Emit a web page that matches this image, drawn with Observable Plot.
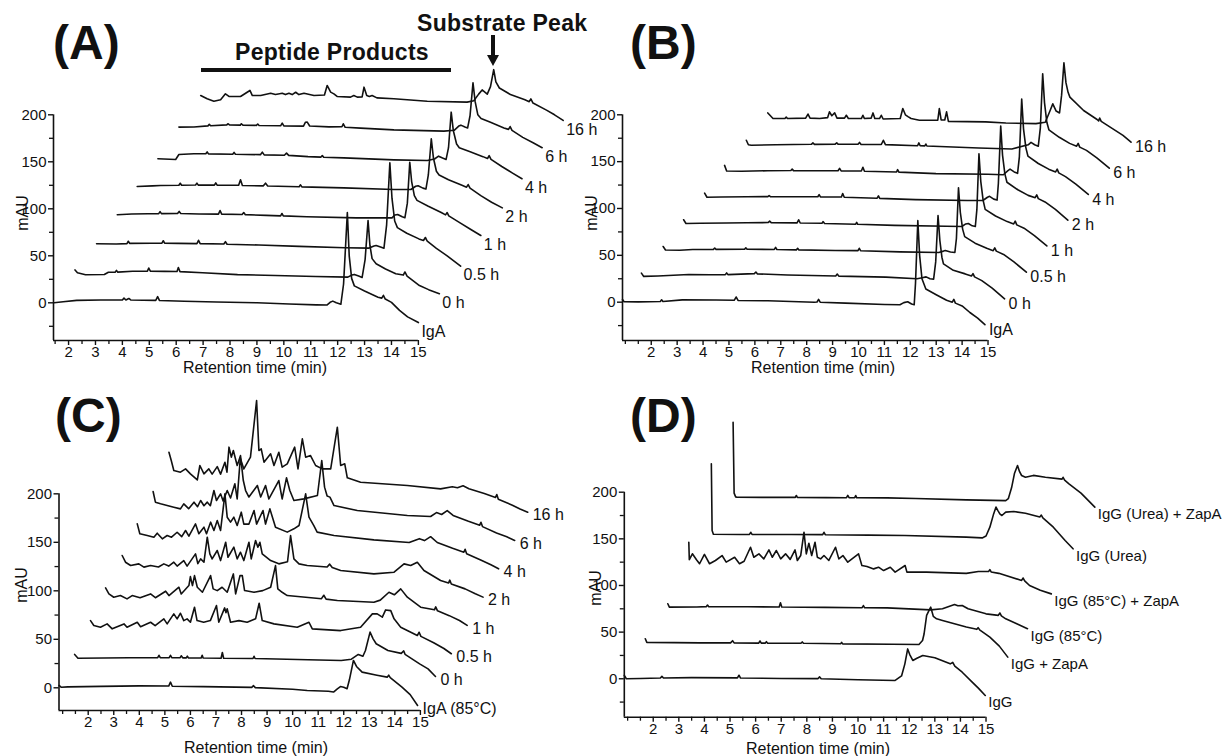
<!DOCTYPE html>
<html><head><meta charset="utf-8">
<script src="https://cdn.jsdelivr.net/npm/d3@7"></script>
<script src="https://cdn.jsdelivr.net/npm/@observablehq/plot@0.6"></script>
<style>
html,body{margin:0;padding:0;background:#fff;}
#root{position:relative;width:1230px;height:756px;overflow:hidden;font-family:"Liberation Sans",Arial,Helvetica,sans-serif;color:#111;}
.panel{position:absolute;}
.title{position:absolute;font-weight:bold;font-size:48px;line-height:1;white-space:nowrap;}
.note{position:absolute;font-weight:bold;font-size:23px;line-height:1;white-space:nowrap;letter-spacing:0.3px;}
.ylab{position:absolute;font-size:16px;line-height:1;transform:translate(-50%,-50%) rotate(-90deg);white-space:nowrap;}
.xlab{position:absolute;font-size:16px;line-height:1;transform:translate(-50%,-50%);white-space:nowrap;}
.bar{position:absolute;background:#111;}
.head{position:absolute;width:0;height:0;border-left:6px solid transparent;border-right:6px solid transparent;border-top:11px solid #111;}
</style></head>
<body><div id="root"></div>
<script>
// ---------- tick labels ----------
const yTicks = [0, 50, 100, 150, 200];
const xTicks = [2, 3, 4, 5, 6, 7, 8, 9, 10, 11, 12, 13, 14, 15];
const xMinorA = [1.5, 2.5, 3.5, 4.5, 5.5, 6.5, 7.5, 8.5, 9.5, 10.5, 11.5, 12.5, 13.5, 14.5];
const xMinorB = [1, 1.5, 2.5, 3.5, 4.5, 5.5, 6.5, 7.5, 8.5, 9.5, 10.5, 11.5, 12.5, 13.5, 14.5];
const yMinorFull = [-25, 25, 75, 125, 175];
const yMinorC = [25, 75, 125, 175];

// ---------- Panel A : IgA + ZapA, time course ----------
const labelsA = ["IgA", "0 h", "0.5 h", "1 h", "2 h", "4 h", "6 h", "16 h"];
const shiftsA = [0, 0.78, 1.57, 2.35, 3.12, 3.9, 4.68, 5.46];
const liftsA = [0, 31, 63, 94, 124, 155, 187, 218];
const A_IgA = [[1.46,0],[1.8,1.2],[2.3,2.6],[3.2,3],[4.0,3],[4.06,5],[4.13,3],[4.24,4.6],[4.31,3],[5.24,2.6],[5.31,6.5],[5.38,2.4],[6.3,1.6],[7.5,0.8],[9,0],[10.2,-1.2],[11.2,-2.2],[11.6,-2.4],[11.72,0.5],[11.82,1.8],[11.95,0],[12.12,-1.5],[12.22,20],[12.36,96],[12.43,50],[12.52,26],[12.62,18],[13.0,12.5],[13.5,6],[13.64,5],[13.7,8],[13.77,4],[14.0,0.5],[14.3,-8],[14.6,-15],[15,-21]];
const A_0h = [[1.46,4],[1.55,1],[1.85,-1.2],[2.55,-0.9],[2.7,1.5],[2.95,1.5],[3.0,3.5],[3.05,1.6],[3.6,2.5],[4.15,2.7],[4.2,6],[4.26,2.7],[4.8,2.4],[5.25,2.3],[5.3,6.5],[5.36,2.2],[6.2,1],[7.5,-1],[8.9,-2],[10.4,-3],[11.6,-3.7],[11.75,-1.5],[11.84,-0.8],[12.0,-2.5],[12.13,-4],[12.24,15],[12.35,56.6],[12.42,30],[12.5,16],[12.65,10.5],[13.0,5],[13.38,0],[13.66,-1.5],[13.72,1.8],[13.8,-2.5],[14.26,-12.6],[14.6,-17],[15,-21.4]];
const A_05h = [[1.47,-0.2],[2.2,-0.5],[2.6,0],[2.65,2.5],[2.7,0.2],[3.5,0.3],[3.9,0.5],[3.95,3],[4.0,0.5],[4.5,0.2],[5.2,0],[5.26,3.5],[5.32,0],[6.2,-0.5],[6.26,2],[6.32,-0.7],[7.5,-1.5],[9,-3],[10.7,-4.5],[11.6,-4.8],[11.78,-2.5],[11.86,-2],[12.05,-4],[12.15,-5],[12.25,20],[12.37,86],[12.45,48],[12.55,24],[12.65,17],[13.0,11],[13.45,5],[13.62,3.3],[13.69,6.5],[13.76,2.5],[14.1,-5],[14.5,-13],[15.0,-24]];
const A_1h = [[1.46,-0.4],[2.0,0.5],[2.6,0.8],[3.0,0.9],[3.05,3],[3.1,0.9],[3.7,1],[3.76,3.2],[3.82,1],[4.5,0.5],[5.22,0.3],[5.28,4.2],[5.34,0.3],[6.1,0],[6.16,2],[6.22,-0.2],[7.0,-1],[7.53,-1.5],[7.58,1],[7.63,-1.5],[8.5,-2.5],[10.34,-3.6],[11.67,-3.6],[11.78,-0.5],[11.88,0],[12.05,-2.5],[12.15,-3.5],[12.24,12],[12.33,55.5],[12.4,35],[12.5,20],[12.6,15],[13.0,9],[13.5,2],[13.66,-0.5],[13.72,2],[13.78,-1.5],[14.2,-9],[14.6,-16],[14.97,-22.4]];
const A_2h = [[1.43,-0.3],[2.0,0.4],[2.3,0.8],[2.98,1],[3.03,3.2],[3.08,1],[3.6,1.3],[3.65,3.3],[3.7,1.2],[4.3,1.2],[4.35,3.5],[4.4,1.1],[5.2,1],[5.27,6.8],[5.34,0.8],[6.12,0.4],[6.2,3.3],[6.28,0.2],[7.45,-0.5],[7.5,1.5],[7.55,-0.7],[9.11,-1.7],[10.97,-3.5],[11.6,-3.5],[11.78,0],[11.87,0.5],[12.05,-2],[12.16,-3],[12.25,12],[12.36,50.5],[12.44,30],[12.55,16],[12.65,12],[13.0,7],[13.5,1],[13.67,-1],[13.73,1.8],[13.8,-2],[14.2,-10],[14.6,-17],[15.0,-23]];
const A_4h = [[1.42,-1.8],[2.08,-2.5],[2.2,2.8],[2.76,3.5],[3.2,3.5],[3.25,5.5],[3.3,3.4],[4.2,3],[4.25,5],[4.3,3],[5.23,2.6],[5.3,5.3],[5.37,2.4],[6.12,2],[6.2,4.2],[6.28,1.8],[7.0,0.5],[7.48,0],[7.53,1.7],[7.58,-0.2],[8.33,-0.8],[10.19,-2.9],[11.43,-3.6],[11.7,-2],[11.85,1],[12.0,-1],[12.13,-2.5],[12.22,10],[12.32,47.8],[12.4,28],[12.52,14],[12.62,10],[13.0,6],[13.5,0.5],[13.67,-1.5],[13.73,1.5],[13.8,-2.5],[14.2,-10],[14.6,-17],[14.95,-23]];
const A_6h = [[1.42,-0.1],[1.98,0],[2.5,1.2],[2.55,2.8],[2.6,1.3],[3.2,2.3],[3.24,3.5],[3.3,2.2],[3.7,2],[3.74,3.5],[3.8,2],[4.3,1.8],[4.35,3.2],[4.4,1.6],[5.2,1.3],[5.26,4.1],[5.32,1.2],[6.05,1],[6.12,5],[6.19,5.2],[6.28,1.1],[7.0,0.2],[7.48,0.3],[7.53,3.4],[7.6,-0.3],[8.17,-1.2],[9.41,-3],[11.27,-4.4],[11.65,-3.5],[11.82,1],[11.9,2],[12.05,0],[12.15,-1],[12.24,12],[12.35,47],[12.43,27],[12.53,13],[12.65,9],[13.0,5],[13.5,-1],[13.67,-2.5],[13.73,0.5],[13.8,-3.5],[14.2,-11],[14.6,-17],[14.92,-22]];
const A_16h = [[1.45,2.5],[1.69,-1],[1.94,-3.5],[2.19,-2],[2.37,4.3],[2.5,1.5],[2.93,1.5],[3.28,7.9],[3.37,2.5],[3.68,2.5],[4.05,5],[4.23,3.6],[4.48,5],[4.6,3.5],[4.73,5],[4.85,3.5],[4.98,6],[5.1,3.5],[5.29,5],[5.66,2.5],[6.05,3],[6.15,13.2],[6.28,6.1],[6.4,4.3],[6.52,1.5],[7.02,0.8],[7.14,2.5],[7.27,0.8],[7.45,1],[7.52,11.4],[7.62,2.5],[7.72,1.5],[7.82,2.5],[8.0,0],[8.63,-1],[9.87,-3.5],[11.35,-4.5],[11.6,-3],[11.78,4],[11.91,8.5],[12.1,4],[12.22,12],[12.34,30],[12.42,17],[12.55,10.5],[12.96,3.6],[13.5,-2],[13.66,-4],[13.72,-1],[13.8,-5.5],[14.3,-13],[14.6,-18],[14.92,-24]];

// ---------- Panel B ----------
const labelsB = ["IgA", "0 h", "0.5 h", "1 h", "2 h", "4 h", "6 h", "16 h"];
const shiftsB = [0, 0.76, 1.6, 2.39, 3.2, 3.99, 4.8, 5.61];
const liftsB = [0, 28, 56, 84, 112, 140, 168, 196];
const B_IgA = [[0.89,3],[0.95,0.5],[1.5,0.3],[2.35,0.8],[2.4,2.5],[2.45,0.8],[3.2,2.5],[4.5,2.3],[5.2,2],[5.28,5.5],[5.35,1.8],[6.5,1.5],[8.3,0],[8.4,0.2],[8.46,3],[8.52,0],[9.5,-1],[11.0,-2.5],[11.6,-2.8],[11.75,-0.5],[11.9,0.5],[12.05,-2],[12.15,-2.7],[12.2,20],[12.29,87],[12.36,50],[12.45,25],[12.6,14],[13.0,8],[13.4,2],[13.62,0],[13.68,3],[13.74,-1],[14.0,-4],[14.3,-11],[14.6,-17],[14.88,-24]];
const B_0h = [[0.86,3],[0.95,-0.5],[1.5,0],[2.69,1.5],[3.5,1.2],[4.1,1.4],[4.15,3.2],[4.2,1.4],[5.22,2.5],[5.28,4.2],[5.34,2.2],[6.5,1],[8.36,0],[8.42,2],[8.48,-0.2],[10.3,-1.3],[11.5,-3],[11.7,-2],[11.85,-1],[12.0,-3],[12.14,-3.4],[12.22,15],[12.31,64.5],[12.38,38],[12.46,20],[12.52,12.9],[12.9,6],[13.36,2.2],[13.6,0],[13.66,2.5],[13.72,-1],[14.0,-5],[14.4,-13],[14.88,-24.4]];
const B_05h = [[0.86,3.4],[0.95,-0.3],[1.5,-0.5],[2.0,0.2],[2.8,0.4],[2.85,1.8],[2.9,0.4],[4.0,0.5],[4.05,2],[4.1,0.5],[5.15,0.3],[5.2,2.5],[5.25,0.2],[6.0,-0.2],[6.05,1.5],[6.1,-0.2],[7.5,-0.8],[8.38,-1],[8.43,1.5],[8.48,-1.1],[10,-2.3],[11.5,-3],[11.68,-1.5],[11.75,-0.8],[11.95,-2.5],[12.12,-3],[12.18,12],[12.26,66],[12.33,40],[12.42,22],[12.5,14],[12.9,7],[13.35,1.5],[13.6,-1],[13.66,2],[13.72,-1.5],[14.0,-5],[14.4,-13],[14.88,-24]];
const B_1h = [[0.86,4],[0.95,0],[1.5,0.2],[2.5,0.5],[3.3,0.8],[4.12,1],[4.18,2.5],[4.24,0.9],[5.24,0.6],[5.3,4],[5.36,0.5],[6.2,0.2],[6.24,2],[6.3,0],[7.5,-0.8],[7.54,1.2],[7.58,-0.9],[9,-2],[11.0,-3],[11.6,-3.2],[11.75,-0.5],[11.85,0],[12.0,-2.5],[12.12,-3.2],[12.18,15],[12.26,74.4],[12.33,45],[12.42,25],[12.5,15],[12.9,8],[13.35,2],[13.6,-0.5],[13.66,2.5],[13.72,-1.5],[14.0,-5],[14.4,-13],[14.88,-24]];
const B_2h = [[0.86,4.4],[0.95,0],[1.5,0.3],[2.5,0.5],[3.3,0.7],[3.35,1.8],[3.4,0.7],[4.5,0.5],[5.23,0.5],[5.28,2.8],[5.33,0.4],[6.14,0.2],[6.19,4],[6.25,0],[7.52,-1],[7.57,1.5],[7.62,-1.2],[9,-2.5],[11.0,-3.5],[11.6,-3.5],[11.78,0],[11.86,1],[12.02,-2],[12.15,-3],[12.2,15],[12.29,75.9],[12.36,45],[12.45,25],[12.53,16],[12.95,8],[13.35,2],[13.62,-0.5],[13.68,2.5],[13.74,-1.5],[14.0,-5],[14.4,-13],[14.88,-24.5]];
const B_4h = [[0.84,6],[0.92,0],[1.5,-0.2],[2.5,0.3],[3.4,0.5],[3.45,2],[3.5,0.4],[4.5,0.3],[5.22,0.3],[5.28,2.8],[5.34,0.2],[6.12,0],[6.18,4],[6.24,-0.2],[7.48,-1],[7.52,1.5],[7.57,-1.2],[9,-2.8],[11.0,-3.5],[11.6,-4],[11.78,0.5],[11.86,2],[12.02,-1],[12.15,-2.5],[12.22,15],[12.31,76.7],[12.38,45],[12.47,25],[12.55,16],[12.95,8],[13.35,2],[13.62,-1],[13.68,2],[13.74,-2],[14.0,-6],[14.4,-14],[14.88,-25]];
const B_6h = [[0.87,4.8],[0.95,0],[1.06,-0.5],[2.0,0],[3.38,0.5],[3.44,2],[3.5,0.4],[4.3,0.6],[4.36,2],[4.42,0.5],[5.18,0.5],[5.24,2.5],[5.3,0.4],[6.08,0.3],[6.16,4.8],[6.24,0.2],[7.48,-1],[7.53,2],[7.58,-1],[7.76,-1.2],[7.8,0.8],[7.84,-1.3],[9.84,-3.5],[11.12,-4.5],[11.75,0],[11.86,2.5],[12.0,0],[12.14,-1.5],[12.22,18],[12.31,75.8],[12.38,45],[12.47,24],[12.55,16],[12.95,8],[13.35,1.5],[13.62,-1.5],[13.68,1.5],[13.74,-2.5],[14.0,-6],[14.4,-14],[14.88,-25]];
const B_16h = [[0.89,6],[1.09,0],[1.55,0],[1.6,1.5],[1.65,0],[2.35,0.5],[2.44,4.8],[2.52,0.5],[2.89,0],[3.2,1],[3.27,7.2],[3.36,3],[3.47,6],[3.56,0.5],[3.85,0.5],[3.92,3.5],[4.0,0],[4.5,0],[4.56,3.5],[4.62,0],[4.88,0.5],[4.95,6],[5.02,0],[5.2,0],[5.27,3.5],[5.34,-0.5],[6.0,0],[6.1,10.7],[6.2,4],[6.3,2],[6.42,0],[6.74,-1.8],[7.45,-1.8],[7.51,10.7],[7.58,-1.5],[7.72,-1.5],[7.79,7.2],[7.86,-3],[9.3,-3.6],[10.08,-4.8],[11.24,-5.4],[11.6,-4],[11.78,8],[11.89,15.7],[12.02,8],[12.15,6],[12.23,25],[12.32,59.5],[12.4,38],[12.48,28],[12.55,22.9],[13.08,8.6],[13.6,-1],[13.66,-2.5],[13.7,0.5],[13.76,-3],[14.3,-12.7],[14.6,-18],[14.91,-25.2]];

// ---------- Panel C : heated IgA ----------
const labelsC = ["IgA (85°C)", "0 h", "0.5 h", "1 h", "2 h", "4 h", "6 h", "16 h"];
const shiftsC = [0, 0.6, 1.22, 1.83, 2.45, 3.06, 3.68, 4.3];
const liftsC = [0, 30.5, 62.5, 93.4, 126, 158.8, 189.7, 222.3];
const C_IgA = [[0.86,2.4],[0.95,0.5],[1.2,1],[2.5,1.5],[4.0,2],[5.15,1.8],[5.22,5.8],[5.29,1.6],[6.5,1.2],[8.4,0.4],[8.47,2.2],[8.54,0.2],[10,-1.5],[10.57,-2.8],[11.4,-3.5],[11.6,-4.4],[11.75,-1],[11.87,1.3],[12.0,0.5],[12.13,-1],[12.22,8],[12.38,28.2],[12.5,22],[12.72,16.2],[13.3,13],[13.7,11],[13.76,13],[13.82,10.5],[14.28,0.7],[14.6,-7],[14.89,-18.2]];
const C_0h = [[0.87,3.9],[1.0,0],[2.0,0.3],[3.0,0.5],[4.12,0.5],[4.17,3],[4.22,0.5],[4.57,0.5],[4.62,3],[4.67,0.5],[5.0,0.5],[5.04,2.5],[5.1,0.4],[5.24,0.4],[5.28,2.2],[5.32,0.3],[5.82,0.2],[5.86,3],[5.9,0.2],[6.6,0],[6.65,5.9],[6.7,0],[7.85,-0.3],[7.89,2],[7.93,-0.3],[10,-1.5],[11.3,-2.4],[11.7,-1],[11.97,3.9],[12.15,2],[12.25,8],[12.43,26.9],[12.55,20],[12.67,14.9],[13.13,8],[13.65,5],[13.75,7.5],[13.8,4],[14.37,-5.8],[14.7,-11],[14.99,-18.8]];
const C_05h = [[0.87,6.8],[1.0,1.7],[1.26,0],[1.52,3.4],[1.72,-1.7],[2.18,3.4],[2.3,0],[2.7,5.1],[2.83,0.5],[3.22,5.1],[3.4,1.5],[3.74,8.6],[3.87,3.4],[4.13,13.7],[4.26,8.6],[4.39,14.4],[4.52,6.8],[4.65,8.6],[4.78,5.1],[4.94,20.6],[5.04,6.8],[5.3,5.1],[5.56,6.8],[5.8,22.3],[5.89,5.1],[6.12,19.9],[6.17,15],[6.22,18.9],[6.35,5.1],[6.68,6.8],[7.0,5.1],[7.33,8.6],[7.47,24.7],[7.59,6.8],[8.05,3.4],[8.96,0],[9.42,5.1],[9.55,-1.7],[10.66,-3.5],[11.44,0],[11.9,13.7],[12.09,13.7],[12.29,10.3],[12.42,17.8],[12.62,17.1],[12.75,8.6],[13.01,0],[13.66,-8.6],[13.73,-5.2],[13.8,-9.5],[14.3,-16],[14.7,-22],[14.99,-27.4]];
const C_1h = [[0.85,9.6],[0.98,3.4],[1.17,0],[1.43,1.7],[1.69,-1.7],[1.89,1.7],[2.2,-0.5],[2.61,3.4],[2.8,-0.5],[3.2,6.2],[3.33,1.7],[3.72,10.3],[3.81,3.4],[4.11,12],[4.17,21.3],[4.25,12],[4.33,22.3],[4.44,10.3],[4.64,5.1],[4.96,22.3],[5.06,8.6],[5.22,6.8],[5.41,10.3],[5.61,5.1],[5.85,24],[5.94,3.4],[6.11,22.3],[6.2,22.3],[6.29,6.9],[6.66,5.1],[7.0,6.8],[7.31,10.3],[7.5,32.6],[7.59,8.6],[7.76,5.1],[7.96,1.7],[9.3,-1.5],[9.39,2],[9.48,-2],[9.92,-3.4],[11.35,-5.2],[11.6,-3],[11.94,5.1],[12.15,2.5],[12.4,8.6],[12.66,0],[13.18,-10.3],[13.72,-13],[13.77,-10],[13.84,-14],[14.3,-19],[14.7,-24],[15.0,-29.1]];
const C_2h = [[0.88,10.4],[1.01,3.5],[1.21,0.1],[1.53,1.8],[1.73,-1.6],[1.99,0.1],[2.3,-1.5],[2.51,1.8],[2.7,-0.5],[2.9,3.5],[3.03,-0.5],[3.29,5.2],[3.42,-0.5],[3.75,12.1],[3.84,2],[3.95,6.9],[4.08,3.5],[4.21,29.3],[4.31,12.1],[4.4,6.9],[4.6,15.6],[4.73,5.2],[4.93,24.1],[5.02,8.6],[5.25,19],[5.38,6.9],[5.51,13.8],[5.64,5.2],[5.84,24.1],[5.93,6.9],[6.1,25.9],[6.19,18.9],[6.27,24],[6.36,12.1],[6.69,5.2],[7.01,1.8],[7.35,4],[7.47,31],[7.6,7],[7.8,1.8],[8.12,0.1],[8.9,-1.5],[9.0,1.5],[9.1,-2],[9.43,-5],[10.73,-8.5],[11.52,-6.8],[11.91,1.8],[12.17,0.1],[12.43,3.5],[12.69,-5],[13.34,-15.4],[13.65,-18],[13.7,-15],[13.76,-19],[14.3,-24],[14.7,-29],[15.0,-32.5]];
const C_4h = [[0.86,10.2],[0.96,0],[1.25,-1.8],[1.51,-3.5],[1.64,0.6],[1.84,-5.2],[2.03,-1.8],[2.2,-3.5],[2.42,1.6],[2.6,-3],[2.75,3.4],[2.88,-2.5],[3.14,10.2],[3.27,0],[3.47,6.8],[3.57,0],[3.73,12],[3.86,3.4],[3.99,13.7],[4.12,3.4],[4.29,41.2],[4.38,17.1],[4.51,12],[4.64,17.1],[4.77,8.6],[4.93,22.3],[5.03,10],[5.23,10],[5.43,24],[5.53,10],[5.78,24],[5.88,10],[6.05,25.7],[6.15,17],[6.27,6.8],[6.73,1.7],[6.99,5.1],[7.19,8.5],[7.45,41.2],[7.58,17.1],[7.77,8.5],[7.9,1.7],[8.56,-1.8],[10.12,-6.3],[11.5,-9],[11.9,-5],[12.1,-7],[12.34,-3],[12.6,-9],[13.2,-15],[13.64,-19],[13.69,-16],[13.75,-20.5],[14.3,-27],[14.7,-32],[15.0,-36.1]];
const C_6h = [[0.86,12.7],[0.95,1.7],[1.15,0],[1.41,-1.8],[1.67,-3.5],[1.93,-5.2],[2.06,0],[2.25,-5],[2.46,1.7],[2.6,-3],[2.72,3.4],[2.85,-2],[2.98,1.7],[3.1,-2],[3.24,13.7],[3.34,3.4],[3.5,10.3],[3.6,3],[3.76,13.7],[3.89,6],[4.06,20.6],[4.15,5],[4.28,49.8],[4.39,24],[4.48,13.7],[4.61,7],[4.94,18.9],[5.07,7],[5.26,18.9],[5.39,5],[5.78,24],[5.91,5],[6.08,26.8],[6.21,13.7],[6.37,3.4],[6.76,5.1],[7.29,8.6],[7.46,44.6],[7.57,17.2],[7.67,8],[7.78,6.9],[7.94,-1.8],[8.85,-6.9],[10.81,-12],[11.72,-13.1],[11.95,-9],[12.15,-11],[12.37,-7],[12.6,-12],[13.2,-18],[13.64,-22],[13.69,-19],[13.75,-23.5],[14.3,-30],[14.7,-34],[15.01,-37.8]];
const C_16h = [[0.86,20.6],[0.95,12],[1.05,1.7],[1.31,0],[1.51,3.4],[1.7,-1.7],[1.97,-7.9],[2.07,6.9],[2.23,-1.7],[2.42,3.4],[2.55,-2],[2.75,5.8],[2.88,-2],[3.05,10.3],[3.13,0],[3.21,25.8],[3.3,15.5],[3.38,22.3],[3.53,6.9],[3.64,15.5],[3.79,3.4],[4.05,15.5],[4.29,73.9],[4.38,22.3],[4.47,24.1],[4.58,10.3],[4.84,18.9],[4.97,6.9],[5.16,20.6],[5.29,5.2],[5.49,8.6],[5.78,25.8],[5.91,3.4],[6.08,34.4],[6.21,15.5],[6.4,17.2],[6.6,6.9],[6.86,3.4],[7.19,3.4],[7.45,46.4],[7.58,6.9],[7.74,8.6],[7.84,-5.8],[8.36,-10.3],[10.19,-13.7],[11.49,-17.2],[11.95,-15],[12.15,-16],[12.37,-14],[12.6,-17],[13.2,-22],[13.64,-26],[13.69,-23],[13.75,-28],[14.3,-34],[14.6,-38],[14.9,-41.3]];

// ---------- Panel D : IgG ----------
const labelsD = ["IgG", "IgG + ZapA", "IgG (85°C)", "IgG (85°C) + ZapA", "IgG (Urea)", "IgG (Urea) + ZapA"];
const shiftsD = [0, 0.82, 1.7, 2.52, 3.4, 4.25];
const liftsD = [0, 39, 77, 125, 155, 195];
const D_IgG = [[0.87,3.6],[0.95,0],[1.5,0.3],[2.28,0.8],[2.34,2.6],[2.4,0.8],[3.5,1.2],[5.29,1],[5.35,3.8],[5.41,0.8],[7,0.3],[8.44,0.2],[8.5,2],[8.56,0],[10,-1],[11.45,-1.8],[11.7,3],[11.83,16],[11.94,32],[12.02,26],[12.14,19.6],[12.3,22],[12.53,25],[13.0,22.5],[13.6,16],[13.7,17.5],[13.78,13.5],[14.07,7],[14.46,-3.6],[14.7,-10],[14.97,-17.9]];
const D_ZapA = [[0.87,3.9],[0.93,0],[2.0,-0.3],[3.0,-0.5],[4.2,-0.5],[4.28,1.8],[4.34,-0.5],[5.3,-0.8],[5.35,1.5],[5.4,-0.8],[5.56,-0.8],[5.6,0.8],[5.65,-0.9],[6.95,-1],[7.0,0.5],[7.05,-1],[8.5,-1.5],[8.54,0],[8.58,-1.6],[10.5,-2],[11.56,-2.2],[11.7,2],[11.76,9],[11.86,28.9],[11.95,34],[12.02,37.8],[12.12,28],[12.25,25.3],[12.48,23.5],[13.41,16.4],[13.82,14],[13.87,15.8],[13.93,13.5],[14.33,5.6],[14.7,-4],[15.03,-15.8]];
const D_85 = [[0.87,3.4],[0.93,-0.2],[2.0,0],[2.37,0.3],[2.42,2],[2.47,0.3],[4.0,0.2],[5.22,0],[5.27,4.4],[5.32,0],[7.0,-0.5],[8.46,-0.8],[8.51,1.5],[8.56,-0.9],[9.44,-1],[11.14,-3.1],[11.6,-2],[12.07,2.6],[12.2,1.2],[12.37,1.6],[12.6,-2],[13.3,-7.4],[13.78,-9],[13.84,-6.5],[13.9,-9.5],[14.07,-12.7],[14.5,-18],[14.92,-23.4]];
const D_85Z = [[0.87,21.3],[0.89,2.6],[1.01,9],[1.17,2.6],[1.29,-1.7],[1.48,8.3],[1.68,-1.7],[1.91,1.8],[2.17,7.1],[2.33,0],[2.66,5.3],[2.85,-1.7],[3.03,1],[3.28,16],[3.41,5.3],[3.61,8.9],[3.8,3.5],[4.0,13.2],[4.13,5.3],[4.29,12.5],[4.46,3.5],[4.65,8.9],[4.83,3],[5.02,13.2],[5.11,1.8],[5.24,7.1],[5.37,32.1],[5.46,8.9],[5.56,20.3],[5.67,7.1],[5.8,21.4],[5.89,5.3],[6.02,3.5],[6.15,7.1],[6.34,1.8],[6.6,16],[6.73,3.5],[6.89,7.1],[7.08,0],[7.5,8.9],[7.63,-3.6],[7.83,-4.6],[8.09,-7.2],[8.28,-5.4],[8.48,-9],[8.74,-5.4],[8.93,-10.7],[9.32,-3.6],[9.39,-10.7],[10.16,-10.7],[11.71,-12],[12.18,-10],[12.58,-10],[12.63,-8],[12.68,-10.5],[12.98,-12],[13.87,-19.6],[13.93,-17],[13.99,-20],[14.18,-25],[14.6,-30],[15.03,-34]];
const D_Urea = [[0.87,75.4],[0.9,4],[0.95,0],[2.0,-0.3],[2.36,-0.3],[2.41,2],[2.46,-0.3],[4.0,-0.4],[5.22,-0.5],[5.27,2],[5.32,-0.6],[7,-1],[8.43,-1.4],[10.83,-3.2],[11.45,-4],[11.6,-2],[11.75,7.5],[11.9,22],[11.99,29],[12.07,25],[12.14,21.8],[12.22,20],[12.37,23.6],[12.68,24.3],[13.14,22.5],[13.7,18.5],[13.76,20.5],[13.82,17.5],[14.23,7.5],[14.69,-6.8],[15.0,-15.7]];
const D_UreaZ = [[0.87,80],[0.91,4],[0.97,0],[1.02,-0.4],[2.0,-0.5],[3.3,-0.6],[3.34,1.5],[3.38,-0.6],[4.5,-0.8],[5.3,-0.9],[5.35,1.6],[5.4,-0.9],[5.62,-0.9],[5.66,1.4],[5.7,-1],[6.89,-1.1],[8.0,-1.8],[9.98,-3.2],[11.52,-4],[11.62,-2],[11.75,10],[11.86,25],[11.98,33.6],[12.06,27],[12.14,22.9],[12.29,21],[12.6,23],[13.07,21],[13.72,19],[13.76,21],[13.82,18],[13.99,14],[14.46,4],[14.75,-4],[15.0,-11]];

// ---------- drawing ----------
const INK = "#111";
const FONT = '"Liberation Sans", Arial, Helvetica, sans-serif';

function panel(o) {
  const rows = o.traces.flatMap((pts, i) => pts.map(([t, v]) => ({trace: o.labels[i], x: t + o.shifts[i], y: v + o.lifts[i]})));
  const ends = o.traces.map((pts, i) => {
    const [t, v] = pts[pts.length - 1];
    return {x: t + o.shifts[i], y: v + o.lifts[i], label: o.labels[i]};
  });
  const x0 = o.xDomain[0], y0 = o.yDomain[0];
  return Plot.plot({
    width: o.width, height: o.height,
    marginLeft: o.marginLeft, marginRight: 0, marginTop: 0, marginBottom: o.marginBottom,
    x: {domain: o.xDomain, label: null},
    y: {domain: o.yDomain, label: null},
    style: `background: transparent; overflow: visible; font-family: ${FONT}; font-size: 15px; color: ${INK};`,
    marks: [
      Plot.ruleX([x0], {y1: y0, y2: d3.max(yTicks), stroke: INK, strokeWidth: 1.6}),
      Plot.ruleY([y0], {x1: x0, x2: d3.max(xTicks), stroke: INK, strokeWidth: 1.6}),
      Plot.axisY(yTicks, {tickSize: 5, tickPadding: 2, label: null, stroke: INK, strokeWidth: 1.4, fill: INK}),
      Plot.axisY(o.yMinor, {tickSize: 4, tickFormat: () => "", label: null, stroke: INK, strokeWidth: 1.3}),
      Plot.axisX(xTicks, {tickSize: 5, tickPadding: 1, label: null, stroke: INK, strokeWidth: 1.4, fill: INK}),
      Plot.axisX(o.xMinor, {tickSize: 4, tickFormat: () => "", label: null, stroke: INK, strokeWidth: 1.3}),
      Plot.line(rows, {x: "x", y: "y", z: "trace", stroke: INK, strokeWidth: 1.6, strokeLinejoin: "round"}),
      Plot.text(ends, {x: "x", y: "y", text: "label", textAnchor: "start", dx: o.dx, dy: o.dy, fontSize: o.labelSize, fill: INK})
    ]
  });
}

const root = document.getElementById("root");
function place(node, left, top, width) {
  const d = document.createElement("div");
  d.className = "panel";
  d.style.left = left + "px"; d.style.top = top + "px"; d.style.width = width + "px";
  d.appendChild(node);
  root.appendChild(d);
}
function html(cls, text, css) {
  const d = document.createElement("div");
  d.className = cls;
  if (text) d.textContent = text;
  Object.assign(d.style, css);
  root.appendChild(d);
}

place(panel({traces: [A_IgA, A_0h, A_05h, A_1h, A_2h, A_4h, A_6h, A_16h], labels: labelsA, shifts: shiftsA, lifts: liftsA,
  xDomain: [1.44, 22.14], yDomain: [-40.1, 321.6], width: 610, height: 380, marginLeft: 53, marginBottom: 40,
  xMinor: xMinorA, yMinor: yMinorFull, dx: 3, dy: 9, labelSize: 16}), 0, 0, 610);
place(panel({traces: [B_IgA, B_0h, B_05h, B_1h, B_2h, B_4h, B_6h, B_16h], labels: labelsB, shifts: shiftsB, lifts: liftsB,
  xDomain: [0.89, 24.36], yDomain: [-40.9, 322], width: 670, height: 380, marginLeft: 62, marginBottom: 40,
  xMinor: xMinorB, yMinor: yMinorFull, dx: 4, dy: 5, labelSize: 16}), 560, 0, 670);
place(panel({traces: [C_IgA, C_0h, C_05h, C_1h, C_2h, C_4h, C_6h, C_16h], labels: labelsC, shifts: shiftsC, lifts: liftsC,
  xDomain: [0.857, 22.44], yDomain: [-23.4, 322], width: 610, height: 381, marginLeft: 58.5, marginBottom: 46,
  xMinor: xMinorB, yMinor: yMinorC, dx: 5, dy: 3, labelSize: 16}), 0, 375, 610);
place(panel({traces: [D_IgG, D_ZapA, D_85, D_85Z, D_Urea, D_UreaZ], labels: labelsD, shifts: shiftsD, lifts: liftsD,
  xDomain: [0.87, 24.55], yDomain: [-41.2, 325.1], width: 670, height: 381, marginLeft: 63.8, marginBottom: 39.3,
  xMinor: xMinorB, yMinor: yMinorFull, dx: 3, dy: 7, labelSize: 15}), 560, 375, 670);

// panel letters
html("title", "(A)", {left: "53px", top: "19px"});
html("title", "(B)", {left: "630px", top: "19px"});
html("title", "(C)", {left: "55px", top: "392px"});
html("title", "(D)", {left: "630px", top: "392px"});
// axis titles
html("ylab", "mAU", {left: "23px", top: "213px"});
html("ylab", "mAU", {left: "592px", top: "213px"});
html("ylab", "mAU", {left: "22px", top: "585px"});
html("ylab", "mAU", {left: "596px", top: "588px"});
html("xlab", "Retention time (min)", {left: "255px", top: "368px"});
html("xlab", "Retention time (min)", {left: "823px", top: "368px"});
html("xlab", "Retention time (min)", {left: "256px", top: "748px"});
html("xlab", "Retention time (min)", {left: "818px", top: "749px"});
// annotations in panel A
html("note", "Peptide Products", {left: "235px", top: "40.5px"});
html("bar", "", {left: "201px", top: "67.5px", width: "250px", height: "4.5px"});
html("note", "Substrate Peak", {left: "417px", top: "12px"});
html("bar", "", {left: "491.3px", top: "35px", width: "4px", height: "21px"});
html("head", "", {left: "487.3px", top: "55px"});
</script>
</body></html>
